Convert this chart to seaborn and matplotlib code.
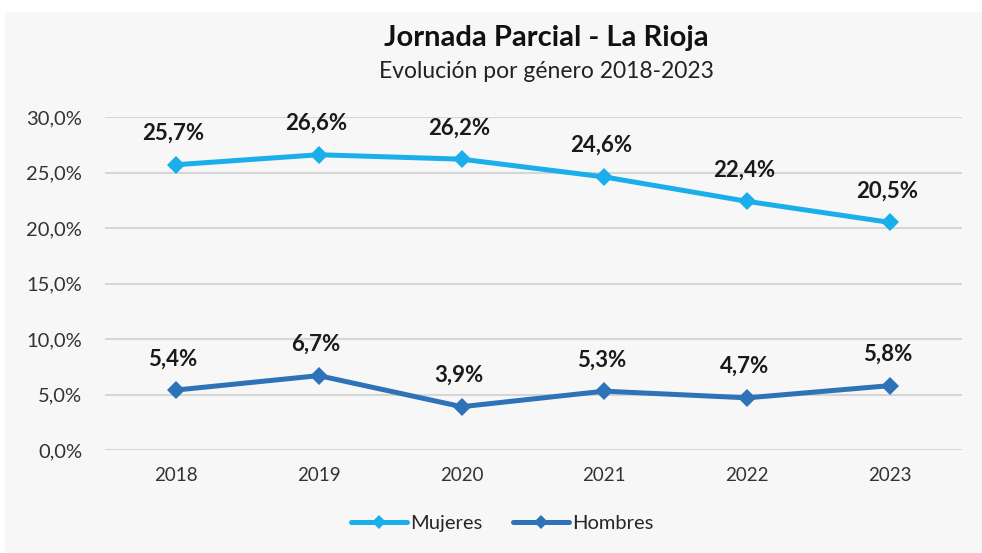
import matplotlib
matplotlib.use("Agg")
import numpy as np
import pandas as pd
import seaborn as sns
from matplotlib import pyplot as plt
from matplotlib.patches import Rectangle
from matplotlib.ticker import FuncFormatter

years = ['2018', '2019', '2020', '2021', '2022', '2023']
mujeres = [25.7, 26.6, 26.2, 24.6, 22.4, 20.5]
hombres = [5.4, 6.7, 3.9, 5.3, 4.7, 5.8]
series = ['Mujeres', 'Hombres']
colors = {'Mujeres': '#1AAFEA', 'Hombres': '#2E72B8'}

df = pd.DataFrame({
    'Año': years * 2,
    'Valor': mujeres + hombres,
    'Género': ['Mujeres'] * len(years) + ['Hombres'] * len(years),
})

sns.set_style('white')
plt.rcParams['font.family'] = ['Lato', 'DejaVu Sans']

fig = plt.figure(figsize=(9.82, 5.53), dpi=100)
fig.patch.set_facecolor('white')
fig.patches.append(Rectangle((5 / 982, 0), 1, 1 - 12 / 553, transform=fig.transFigure,
                             facecolor='#F7F7F7', edgecolor='none', zorder=-10))
ax = fig.add_axes([104.5 / 982, 1 - 450 / 553, 857 / 982, 333 / 553])
ax.set_facecolor('none')
ax.set_zorder(5)

sns.lineplot(data=df, x='Año', y='Valor', hue='Género', hue_order=series, palette=colors,
             style='Género', markers={'Mujeres': 'D', 'Hombres': 'D'}, dashes=False,
             linewidth=3.6, markersize=9, markeredgewidth=0, ax=ax, legend=False, zorder=3)

for name, vals in [('Mujeres', mujeres), ('Hombres', hombres)]:
    for i, v in enumerate(vals):
        ax.annotate(f'{v:.1f}%'.replace('.', ','), (i, v), xytext=(-2, 15), textcoords='offset points',
                    ha='center', va='bottom', fontsize=16, fontweight='bold', color='#1A1A1A')

ax.set_ylim(0, 30)
ax.set_xlim(-0.5, 5.5)
ax.set_yticks(np.arange(0, 31, 5))
ax.yaxis.set_major_formatter(FuncFormatter(lambda y, p: f'{y:.1f}%'.replace('.', ',')))
ax.grid(axis='y', color='#D6D6D6', linewidth=1.5)
ax.grid(axis='x', visible=False)
for s in ax.spines.values():
    s.set_visible(False)
ax.tick_params(axis='both', length=0, labelcolor='#333333')
ax.tick_params(axis='y', pad=16, labelsize=14.5)
ax.tick_params(axis='x', pad=12, labelsize=13.5)
ax.set_xlabel('')
ax.set_ylabel('')

fig.text(546 / 982, 1 - 38 / 553, 'Jornada Parcial - La Rioja', ha='center', va='center',
         fontsize=21, fontweight='bold', color='#111111')
fig.text(546 / 982, 1 - 72 / 553, 'Evolución por género 2018-2023', ha='center', va='center',
         fontsize=16.5, color='#222222')

handles = [plt.Line2D([], [], color=colors[s], linewidth=3.6, marker='D', markersize=7.5,
                      markeredgewidth=0) for s in series]
fig.legend(handles, series, loc='center', bbox_to_anchor=(502 / 982, 1 - 523 / 553), ncol=2,
           frameon=False, fontsize=14.5, handlelength=2.8, handletextpad=0.15, columnspacing=1.5)

fig.savefig('out.png', dpi=100, facecolor='white')
